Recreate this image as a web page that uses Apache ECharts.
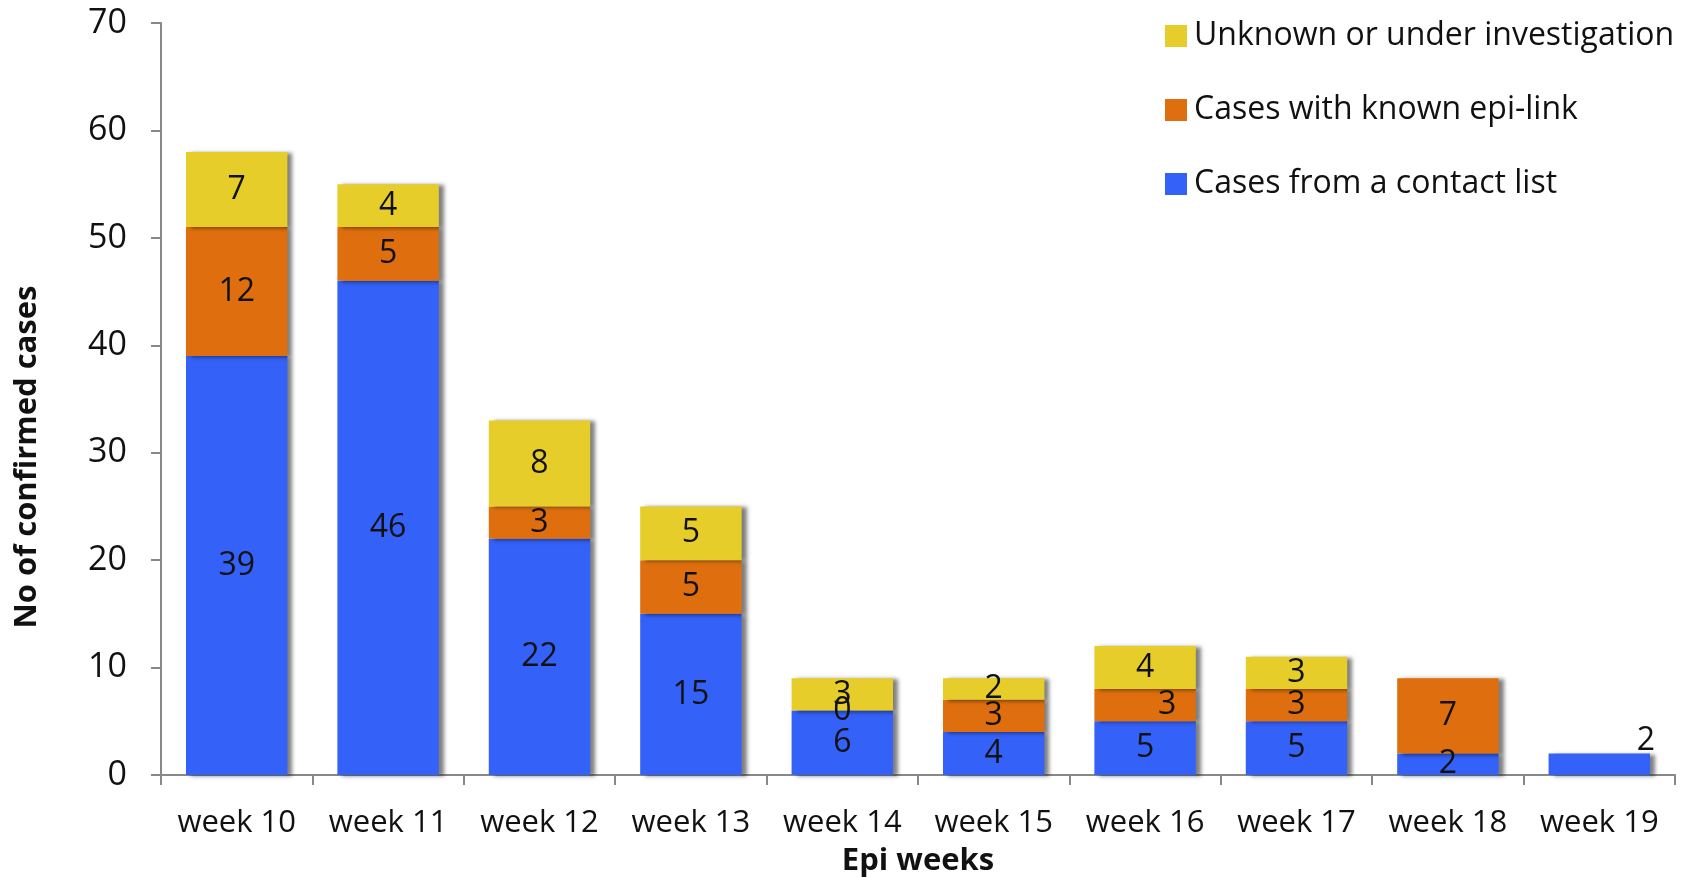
<!DOCTYPE html>
<html><head><meta charset="utf-8">
<script src="https://cdn.jsdelivr.net/npm/echarts@6/dist/echarts.min.js"></script>
<style>html,body{margin:0;padding:0;background:#fff}#c{width:1687px;height:877px}</style>
</head><body><div id="c"></div>
<script>
const categories = ['week 10','week 11','week 12','week 13','week 14','week 15','week 16','week 17','week 18','week 19'];
const contactList = [39,46,22,15,6,4,5,5,2,2];
const epiLink = [12,5,3,5,0,3,3,3,7,0];
const unknown = [7,4,8,5,3,2,4,3,0,0];
const yTicks = [0,10,20,30,40,50,60,70];

const FONT = '"Open Sans", sans-serif';
function mk(vals, showZeroIdx, special) {
  return vals.map((v, i) => {
    const d = { value: v };
    if (v === 0 && showZeroIdx.indexOf(i) < 0) d.label = { show: false };
    if (special && special[i]) d.label = Object.assign({}, special[i]);
    return d;
  });
}
const shadow = { shadowColor: 'rgba(0,0,0,0.5)', shadowBlur: 4, shadowOffsetX: 5, shadowOffsetY: 1 };
const lbl = { show: true, position: 'inside', color: '#111', fontSize: 32, fontFamily: FONT };

const chart = echarts.init(document.getElementById('c'), null, { renderer: 'canvas' });
chart.setOption({
  animation: false,
  textStyle: { fontFamily: FONT },
  grid: { left: 161, right: 12, top: 23, bottom: 102, containLabel: false, outerBoundsMode: 'none' },
  graphic: [{
    type: 'text', x: 27, y: 457, rotation: Math.PI / 2,
    style: { text: 'No of confirmed cases', fontSize: 31, fontWeight: 'bold', fill: '#111',
      fontFamily: FONT, align: 'center', verticalAlign: 'middle' }
  }],
  legend: {
    orient: 'vertical', left: 1160, top: 15, itemWidth: 22, itemHeight: 22, itemGap: 42,
    icon: 'rect',
    textStyle: { fontSize: 32, color: '#111', fontFamily: FONT, padding: [0, 0, 0, 2] },
    data: ['Unknown or under investigation', 'Cases with known epi-link', 'Cases from a contact list']
  },
  xAxis: {
    type: 'category', data: categories,
    name: 'Epi weeks', nameLocation: 'middle', nameGap: 71,
    nameTextStyle: { fontSize: 31, fontWeight: 'bold', color: '#111', fontFamily: FONT },
    axisLine: { lineStyle: { color: '#888', width: 2 } },
    axisTick: { show: true, length: 10, lineStyle: { color: '#888', width: 2 } },
    axisLabel: { fontSize: 31, color: '#111', margin: 33, fontFamily: FONT, interval: 0, hideOverlap: false }
  },
  yAxis: {
    type: 'value', min: 0, max: 70, interval: 10,
    axisLine: { show: true, lineStyle: { color: '#888', width: 2 } },
    axisTick: { show: true, length: 10, lineStyle: { color: '#888', width: 2 } },
    splitLine: { show: false },
    axisLabel: { fontSize: 34, color: '#111', margin: 34, fontFamily: FONT,
      formatter: v => yTicks.indexOf(v) >= 0 ? String(v) : '' }
  },
  series: [
    { name: 'Cases from a contact list', type: 'bar', stack: 'a', barCategoryGap: '33%',
      itemStyle: Object.assign({ color: '#3461F8' }, shadow), label: lbl,
      data: mk(contactList, [], { 9: { show: true, position: 'insideTopRight', offset: [10, -34] } }) },
    { name: 'Cases with known epi-link', type: 'bar', stack: 'a',
      itemStyle: Object.assign({ color: '#DF6F0E' }, shadow), label: lbl,
      data: mk(epiLink, [4], { 6: { show: true, position: 'inside', offset: [22, 0] } }) },
    { name: 'Unknown or under investigation', type: 'bar', stack: 'a',
      itemStyle: Object.assign({ color: '#E6CD2A' }, shadow), label: lbl,
      data: mk(unknown, []) }
  ]
});
</script></body></html>
